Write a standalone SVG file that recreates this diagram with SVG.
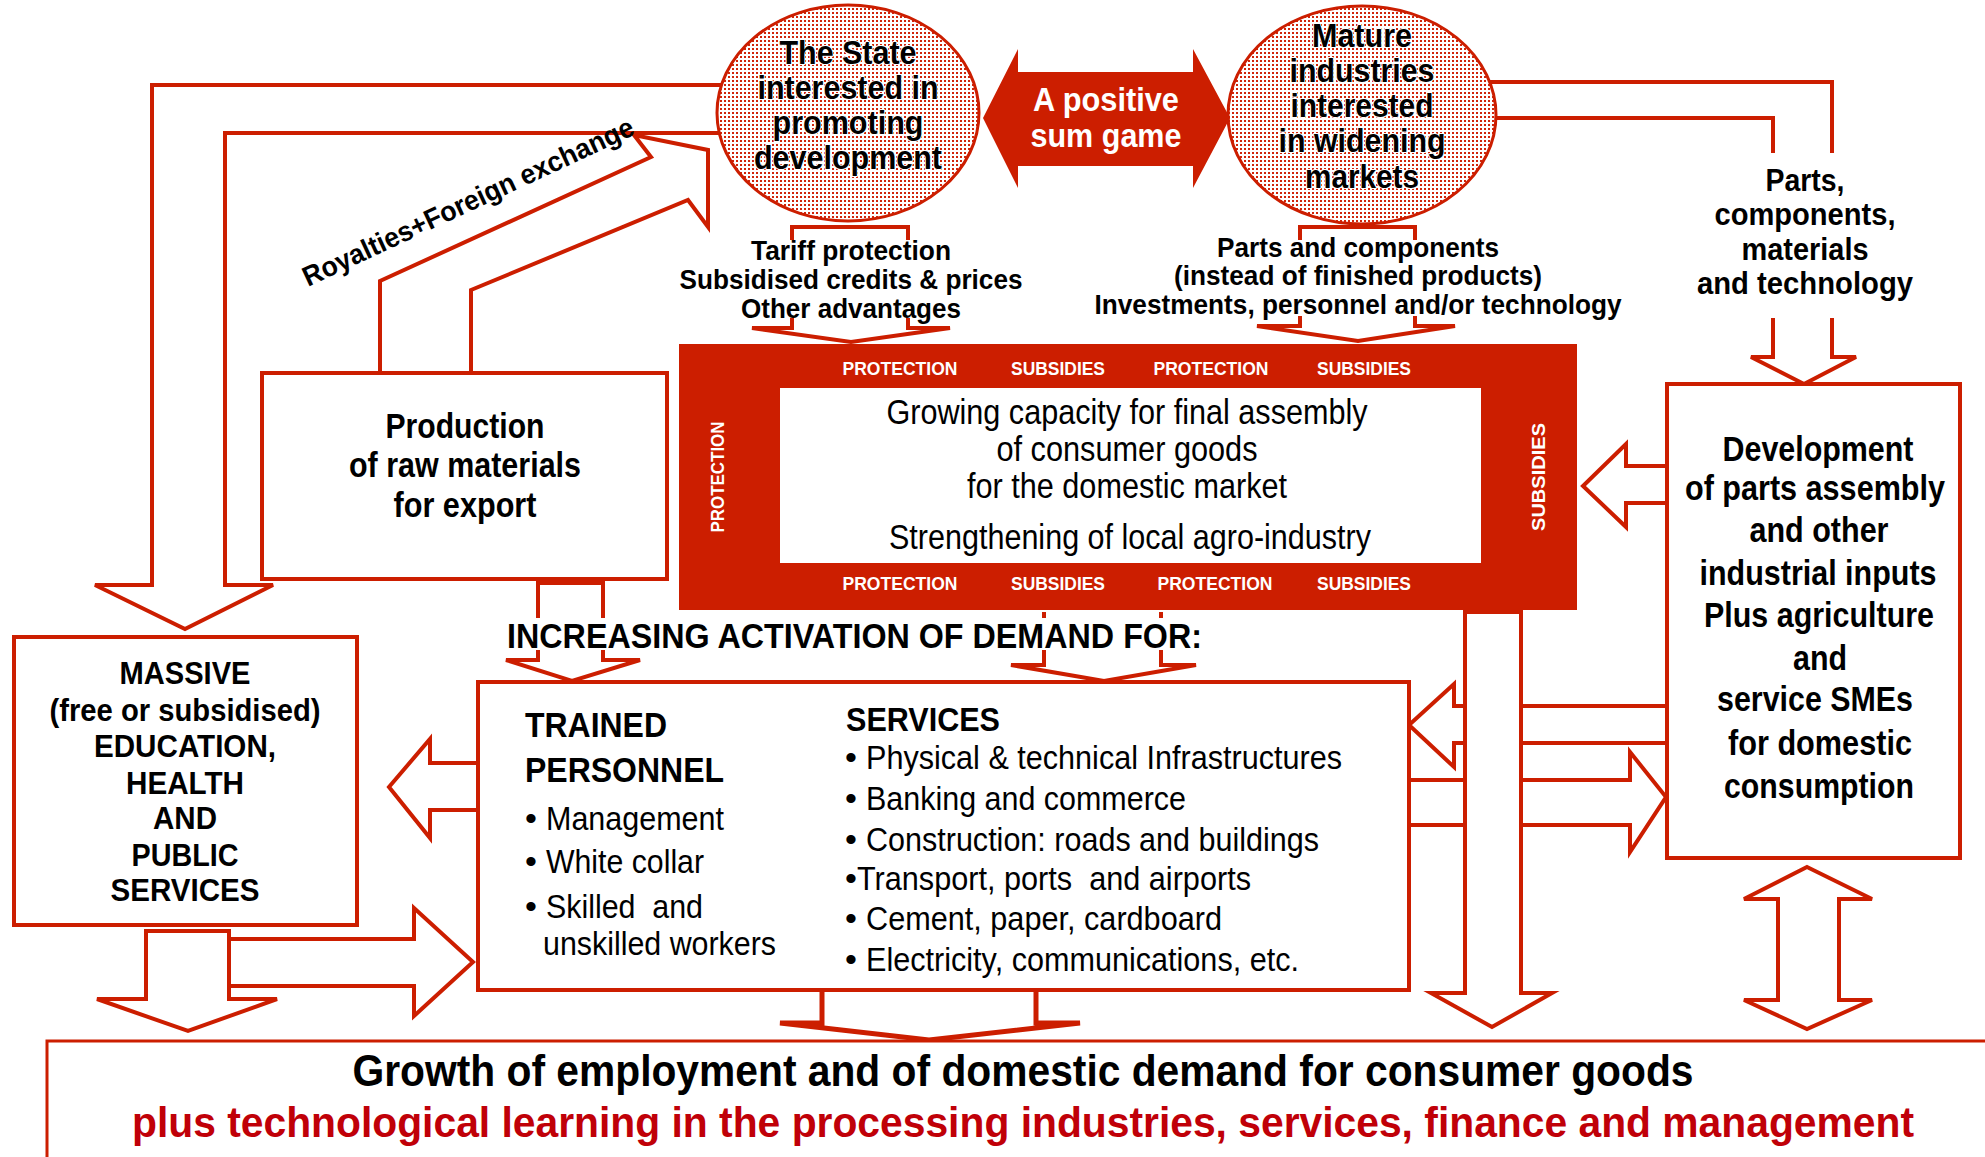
<svg xmlns="http://www.w3.org/2000/svg" width="1985" height="1157" viewBox="0 0 1985 1157">
  <defs>
    <pattern id="dots" width="4" height="4" patternUnits="userSpaceOnUse">
      <rect width="4" height="4" fill="#ffffff"/>
      <rect width="2" height="2" fill="#d0250a"/>
    </pattern>
    <style>
      .ln { fill: none; stroke: #cc1e00; stroke-width: 4; stroke-linejoin: miter; }
      .aw { fill: #ffffff; stroke: #cc1e00; stroke-width: 4; stroke-linejoin: miter; }
      .box { fill: #ffffff; stroke: #cc1e00; stroke-width: 4; }
      .bg { fill: #ffffff; }
      .b { font-family: "Liberation Sans Narrow", "Liberation Sans", Arial, sans-serif; font-weight: bold; fill: #000000; }
      .r { font-family: "Liberation Sans Narrow", "Liberation Sans", Arial, sans-serif; font-weight: normal; fill: #000000; }
      .w { fill: #ffffff; }
      .c { text-anchor: middle; }
      .halo { stroke: #ffffff; stroke-width: 2; paint-order: stroke; stroke-linejoin: round; }
      .band { font-family: "Liberation Sans Narrow", "Liberation Sans", Arial, sans-serif; font-weight: bold; font-size: 19px; fill: #ffffff; text-anchor: middle; }
      .vband { font-family: "Liberation Sans", Arial, sans-serif; font-weight: bold; font-size: 19px; fill: #ffffff; text-anchor: middle; }
    </style>
  </defs>

  <rect width="1985" height="1157" fill="#ffffff"/>

  <!-- connectors and block arrows -->
  <g id="connectors">
    <!-- State -> education/health (double-line arrow on the far left) -->
    <path class="ln" d="M730,85 H152 V585 H95 L185,629 L273,585 H225 V133 H730"/>
    <!-- raw materials -> State : royalties + foreign exchange -->
    <path class="ln" d="M380,375 V281 L651,157 L634,135 L708,150 V227 L688,200 L471,290 V375"/>
    <!-- State -> core : tariff protection etc. -->
    <path class="ln" d="M792,240 V227 H908 V240"/>
    <path class="ln" d="M792,318 V328 H752 L851,342 L950,328 H908 V318"/>
    <!-- Mature industries -> core : parts and components -->
    <path class="ln" d="M1300,240 V227 H1415 V240"/>
    <path class="ln" d="M1300,316 V326 H1257 L1358,341 L1455,326 H1415 V316"/>
    <!-- Mature industries -> parts, components, materials -->
    <path class="ln" d="M1480,82 H1832 V153"/>
    <path class="ln" d="M1485,118 H1773 V153"/>
    <path class="aw" d="M1773,318 V357 H1751 L1804,384 L1856,357 H1832 V318"/>
    <!-- raw materials -> demand -->
    <path class="aw" d="M538,583 H603 V660 H640 L572,681 L506,660 H538 Z"/>
    <!-- core -> demand -->
    <path class="aw" d="M1044,612 V665 H1011 L1104,681 L1196,665 H1161 V612"/>
    <!-- development -> core -->
    <path class="aw" d="M1667,466 H1626 V444 L1583,486 L1626,527 V503 H1667"/>
    <!-- development -> trained personnel / services -->
    <path class="aw" d="M1667,706 H1454 V684 L1409,725 L1454,767 V743 H1667"/>
    <!-- trained personnel / services -> development -->
    <path class="aw" d="M1409,780 H1630 V752 L1666,797 L1630,852 V825 H1409"/>
    <!-- core -> growth (long vertical arrow) -->
    <path class="aw" d="M1465,612 V993 H1431 L1492,1027 L1552,993 H1521 V612 Z"/>
    <!-- development <-> growth -->
    <path class="aw" d="M1807,867 L1872,899 H1839 V1000 H1872 L1807,1029 L1744,1000 H1778 V899 H1744 Z"/>
    <!-- trained personnel -> education -->
    <path class="aw" d="M478,763 H430 V739 L389,787 L430,838 V810 H478"/>
    <!-- education -> trained personnel -->
    <path class="aw" d="M229,939 H414 V908 L473,962 L414,1016 V986 H229"/>
    <!-- education -> growth -->
    <path class="aw" d="M146,931 V999 H97 L188,1031 L277,999 H229 V931 Z"/>
    <!-- demand -> growth -->
    <path class="aw" style="stroke-width:5" d="M822,990 V1023 H780 L929,1040 L1080,1023 H1036 V990"/>
  </g>

  <!-- The State -->
  <g id="state">
    <ellipse cx="848" cy="113" rx="131" ry="108" fill="url(#dots)" stroke="#cc1e00" stroke-width="3"/>
    <text class="b c halo" font-size="34"><tspan x="848" y="64" textLength="137" lengthAdjust="spacingAndGlyphs">The State</tspan><tspan x="848" y="99" textLength="181" lengthAdjust="spacingAndGlyphs">interested in</tspan><tspan x="848" y="134" textLength="151" lengthAdjust="spacingAndGlyphs">promoting</tspan><tspan x="848" y="169" textLength="188" lengthAdjust="spacingAndGlyphs">development</tspan></text>
  </g>

  <!-- Mature industries -->
  <g id="mature">
    <ellipse cx="1362" cy="115" rx="134" ry="109" fill="url(#dots)" stroke="#cc1e00" stroke-width="3"/>
    <text class="b c halo" font-size="34"><tspan x="1362" y="47" textLength="100" lengthAdjust="spacingAndGlyphs">Mature</tspan><tspan x="1362" y="82" textLength="145" lengthAdjust="spacingAndGlyphs">industries</tspan><tspan x="1362" y="117" textLength="143" lengthAdjust="spacingAndGlyphs">interested</tspan><tspan x="1362" y="152" textLength="167" lengthAdjust="spacingAndGlyphs">in widening</tspan><tspan x="1362" y="188" textLength="114" lengthAdjust="spacingAndGlyphs">markets</tspan></text>
  </g>

  <!-- positive sum game -->
  <g id="positive-sum">
    <path d="M983,118 L1018,49 V72 H1193 V49 L1230,118 L1193,188 V166 H1018 V188 Z" fill="#cc1e00"/>
    <text class="b c w" font-size="33"><tspan x="1106" y="111" textLength="146" lengthAdjust="spacingAndGlyphs">A positive</tspan><tspan x="1106" y="147" textLength="151" lengthAdjust="spacingAndGlyphs">sum game</tspan></text>
  </g>

  <!-- royalties label -->
  <g id="royalties-label">
    <text class="b" font-size="28" transform="translate(308,287) rotate(-25)" textLength="362" lengthAdjust="spacingAndGlyphs">Royalties+Foreign exchange</text>
  </g>

  <!-- State incentives label -->
  <g id="state-incentives">
    <rect class="bg" x="680" y="240" width="344" height="78"/>
    <text class="b c" font-size="28"><tspan x="851" y="260" textLength="200" lengthAdjust="spacingAndGlyphs">Tariff protection</tspan><tspan x="851" y="289" textLength="343" lengthAdjust="spacingAndGlyphs">Subsidised credits &amp; prices</tspan><tspan x="851" y="318" textLength="220" lengthAdjust="spacingAndGlyphs">Other advantages</tspan></text>
  </g>

  <!-- industry inputs label -->
  <g id="industry-inputs">
    <rect class="bg" x="1094" y="240" width="530" height="76"/>
    <text class="b c" font-size="28"><tspan x="1358" y="257" textLength="282" lengthAdjust="spacingAndGlyphs">Parts and components</tspan><tspan x="1358" y="285" textLength="368" lengthAdjust="spacingAndGlyphs">(instead of finished products)</tspan><tspan x="1358" y="314" textLength="527" lengthAdjust="spacingAndGlyphs">Investments, personnel and/or technology</tspan></text>
  </g>

  <!-- parts / components / materials label -->
  <g id="parts-label">
    <text class="b c" font-size="32"><tspan x="1805" y="191" textLength="79" lengthAdjust="spacingAndGlyphs">Parts,</tspan><tspan x="1805" y="225" textLength="181" lengthAdjust="spacingAndGlyphs">components,</tspan><tspan x="1805" y="260" textLength="127" lengthAdjust="spacingAndGlyphs">materials</tspan><tspan x="1805" y="294" textLength="216" lengthAdjust="spacingAndGlyphs">and technology</tspan></text>
  </g>

  <!-- production of raw materials -->
  <g id="raw-materials">
    <rect class="box" x="262" y="373" width="405" height="206"/>
    <text class="b c" font-size="35"><tspan x="465" y="438" textLength="159" lengthAdjust="spacingAndGlyphs">Production</tspan><tspan x="465" y="477" textLength="232" lengthAdjust="spacingAndGlyphs">of raw materials</tspan><tspan x="465" y="517" textLength="143" lengthAdjust="spacingAndGlyphs">for export</tspan></text>
  </g>

  <!-- protected core: final assembly and agro-industry -->
  <g id="core">
    <rect x="679" y="344" width="898" height="266" fill="#cc1e00"/>
    <rect x="780" y="388" width="701" height="175" fill="#ffffff"/>
    <text class="band" y="375"><tspan x="900" textLength="115" lengthAdjust="spacingAndGlyphs">PROTECTION</tspan><tspan x="1058" textLength="94" lengthAdjust="spacingAndGlyphs">SUBSIDIES</tspan><tspan x="1211" textLength="115" lengthAdjust="spacingAndGlyphs">PROTECTION</tspan><tspan x="1364" textLength="94" lengthAdjust="spacingAndGlyphs">SUBSIDIES</tspan></text>
    <text class="band" y="590"><tspan x="900" textLength="115" lengthAdjust="spacingAndGlyphs">PROTECTION</tspan><tspan x="1058" textLength="94" lengthAdjust="spacingAndGlyphs">SUBSIDIES</tspan><tspan x="1215" textLength="115" lengthAdjust="spacingAndGlyphs">PROTECTION</tspan><tspan x="1364" textLength="94" lengthAdjust="spacingAndGlyphs">SUBSIDIES</tspan></text>
    <text class="vband" transform="translate(724,477) rotate(-90)" textLength="111" lengthAdjust="spacingAndGlyphs">PROTECTION</text>
    <text class="vband" transform="translate(1545,477) rotate(-90)" textLength="108" lengthAdjust="spacingAndGlyphs">SUBSIDIES</text>
    <text class="r c" font-size="35"><tspan x="1127" y="424" textLength="481" lengthAdjust="spacingAndGlyphs">Growing capacity for final assembly</tspan><tspan x="1127" y="461" textLength="261" lengthAdjust="spacingAndGlyphs">of consumer goods</tspan><tspan x="1127" y="498" textLength="320" lengthAdjust="spacingAndGlyphs">for the domestic market</tspan><tspan x="1130" y="549" textLength="482" lengthAdjust="spacingAndGlyphs">Strengthening of local agro-industry</tspan></text>
  </g>

  <!-- demand heading -->
  <g id="demand-heading">
    <rect class="bg" x="500" y="618" width="712" height="32"/>
    <text class="b" x="507" y="648" font-size="35" textLength="695" lengthAdjust="spacingAndGlyphs">INCREASING ACTIVATION OF DEMAND FOR:</text>
  </g>

  <!-- education, health and public services -->
  <g id="education">
    <rect class="box" x="14" y="637" width="343" height="288"/>
    <text class="b c" font-size="32"><tspan x="185" y="684" textLength="131" lengthAdjust="spacingAndGlyphs">MASSIVE</tspan><tspan x="185" y="721" textLength="271" lengthAdjust="spacingAndGlyphs">(free or subsidised)</tspan><tspan x="185" y="757" textLength="182" lengthAdjust="spacingAndGlyphs">EDUCATION,</tspan><tspan x="185" y="794" textLength="118" lengthAdjust="spacingAndGlyphs">HEALTH</tspan><tspan x="185" y="829" textLength="64" lengthAdjust="spacingAndGlyphs">AND</tspan><tspan x="185" y="866" textLength="107" lengthAdjust="spacingAndGlyphs">PUBLIC</tspan><tspan x="185" y="901" textLength="149" lengthAdjust="spacingAndGlyphs">SERVICES</tspan></text>
  </g>

  <!-- trained personnel and services -->
  <g id="personnel-services">
    <rect class="box" x="478" y="682" width="931" height="308"/>
    <text class="b" font-size="35"><tspan x="525" y="737" textLength="142" lengthAdjust="spacingAndGlyphs">TRAINED</tspan><tspan x="525" y="782" textLength="199" lengthAdjust="spacingAndGlyphs">PERSONNEL</tspan></text>
    <text class="r" font-size="34"><tspan x="525" y="830">•</tspan><tspan x="546" y="830" textLength="178" lengthAdjust="spacingAndGlyphs">Management</tspan><tspan x="525" y="873">•</tspan><tspan x="546" y="873" textLength="158" lengthAdjust="spacingAndGlyphs">White collar</tspan><tspan x="525" y="918">•</tspan><tspan x="546" y="918" textLength="157" lengthAdjust="spacingAndGlyphs">Skilled&#160; and</tspan></text>
    <text class="r" x="543" y="955" font-size="33" textLength="233" lengthAdjust="spacingAndGlyphs">unskilled workers</text>
    <text class="b" x="846" y="731" font-size="34" textLength="154" lengthAdjust="spacingAndGlyphs">SERVICES</text>
    <text class="r" font-size="34"><tspan x="845" y="769">•</tspan><tspan x="866" y="769" textLength="476" lengthAdjust="spacingAndGlyphs">Physical &amp; technical Infrastructures</tspan><tspan x="845" y="810">•</tspan><tspan x="866" y="810" textLength="320" lengthAdjust="spacingAndGlyphs">Banking and commerce</tspan><tspan x="845" y="851">•</tspan><tspan x="866" y="851" textLength="453" lengthAdjust="spacingAndGlyphs">Construction: roads and buildings</tspan><tspan x="845" y="890">•</tspan><tspan x="857" y="890" textLength="394" lengthAdjust="spacingAndGlyphs">Transport, ports&#160; and airports</tspan><tspan x="845" y="930">•</tspan><tspan x="866" y="930" textLength="356" lengthAdjust="spacingAndGlyphs">Cement, paper, cardboard</tspan><tspan x="845" y="971">•</tspan><tspan x="866" y="971" textLength="433" lengthAdjust="spacingAndGlyphs">Electricity, communications, etc.</tspan></text>
  </g>

  <!-- development of parts assembly and SMEs -->
  <g id="development">
    <rect class="box" x="1667" y="384" width="293" height="474"/>
    <text class="b c" font-size="35"><tspan x="1818" y="461" textLength="191" lengthAdjust="spacingAndGlyphs">Development</tspan><tspan x="1815" y="500" textLength="260" lengthAdjust="spacingAndGlyphs">of parts assembly</tspan><tspan x="1819" y="542" textLength="139" lengthAdjust="spacingAndGlyphs">and other</tspan><tspan x="1818" y="585" textLength="237" lengthAdjust="spacingAndGlyphs">industrial inputs</tspan><tspan x="1819" y="627" textLength="230" lengthAdjust="spacingAndGlyphs">Plus agriculture</tspan><tspan x="1820" y="670" textLength="54" lengthAdjust="spacingAndGlyphs">and</tspan><tspan x="1815" y="711" textLength="196" lengthAdjust="spacingAndGlyphs">service SMEs</tspan><tspan x="1820" y="755" textLength="184" lengthAdjust="spacingAndGlyphs">for domestic</tspan><tspan x="1819" y="798" textLength="190" lengthAdjust="spacingAndGlyphs">consumption</tspan></text>
  </g>

  <!-- growth of employment and demand -->
  <g id="growth">
    <rect x="47" y="1041" width="1960" height="140" fill="#ffffff" stroke="#cc1e00" stroke-width="3"/>
    <text class="b c" x="1023" y="1086" font-size="45" textLength="1341" lengthAdjust="spacingAndGlyphs">Growth of employment and of domestic demand for consumer goods</text>
    <text class="b c" x="1023" y="1137" font-size="42" style="fill:#c00008" textLength="1782" lengthAdjust="spacingAndGlyphs">plus technological learning in the processing industries, services, finance and management</text>
  </g>
</svg>
